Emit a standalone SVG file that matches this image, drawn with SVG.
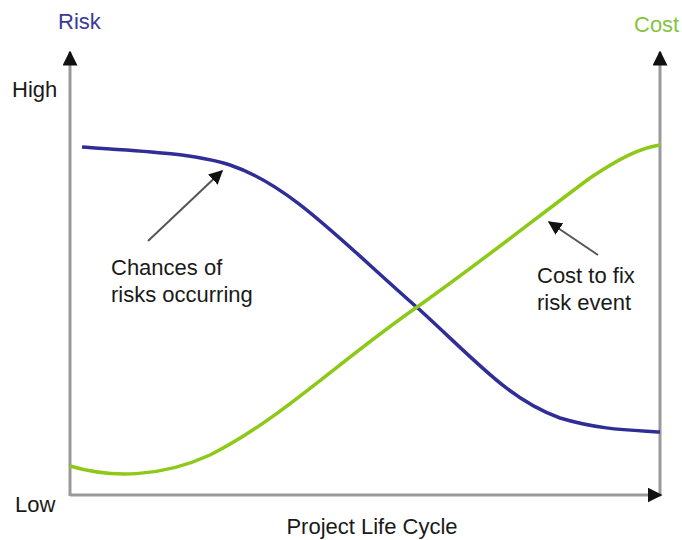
<svg xmlns="http://www.w3.org/2000/svg" width="682" height="540" viewBox="0 0 682 540">
<defs>
<marker id="ah" viewBox="0 0 10 10" refX="9" refY="5" markerWidth="5" markerHeight="5" orient="auto" markerUnits="strokeWidth">
<path d="M0,0 L10,5 L0,10 z" fill="#111"/>
</marker>
<marker id="ahs" viewBox="0 0 10 10" refX="9" refY="5" markerWidth="7" markerHeight="7" orient="auto" markerUnits="strokeWidth">
<path d="M0,0 L10,5 L0,10 z" fill="#111"/>
</marker>
<style>
text{font-family:"Liberation Sans",Arial,sans-serif;font-size:22px;fill:#1a1a1a}
.axis{stroke:#9a9a9a;stroke-width:3;fill:none}
.ptr{stroke:#555;stroke-width:2;fill:none}
</style>
</defs>
<rect width="682" height="540" fill="#fff"/>
<g id="axes">
<line class="axis" x1="70" y1="496" x2="70" y2="52" marker-end="url(#ah)"/>
<line class="axis" x1="660" y1="496" x2="660" y2="52" marker-end="url(#ah)"/>
<line class="axis" x1="70" y1="495" x2="661" y2="495" marker-end="url(#ah)"/>
</g>
<g id="labels">
<text x="58" y="29" style="fill:#3b3a96">Risk</text>
<text x="634" y="32" style="fill:#86c440">Cost</text>
<text x="12" y="97">High</text>
<text x="15" y="512">Low</text>
<text x="372" y="534" text-anchor="middle">Project Life Cycle</text>
</g>
<g id="risk-curve">
<path d="M82,147 C120,150 190,152 230,165 C290,185 340,240 420,310 C480,365 510,400 560,418 C600,430 630,430 660,432" fill="none" stroke="#302e96" stroke-width="3.5"/>
</g>
<g id="cost-curve">
<path d="M70,466 C110,478 160,478 210,455 C280,420 340,360 420,305 C490,255 540,215 590,178 C620,158 640,148 660,145" fill="none" stroke="#8cc918" stroke-width="3.5"/>
</g>
<g id="connectors">
<line class="ptr" x1="148" y1="241" x2="222" y2="171" marker-end="url(#ahs)"/>
<line class="ptr" x1="598" y1="255" x2="549" y2="222" marker-end="url(#ahs)"/>
</g>
<g id="note-risk">
<text x="111" y="275">Chances of</text>
<text x="111" y="302">risks occurring</text>
</g>
<g id="note-cost">
<text x="537" y="283">Cost to fix</text>
<text x="537" y="310">risk event</text>
</g>
</svg>
